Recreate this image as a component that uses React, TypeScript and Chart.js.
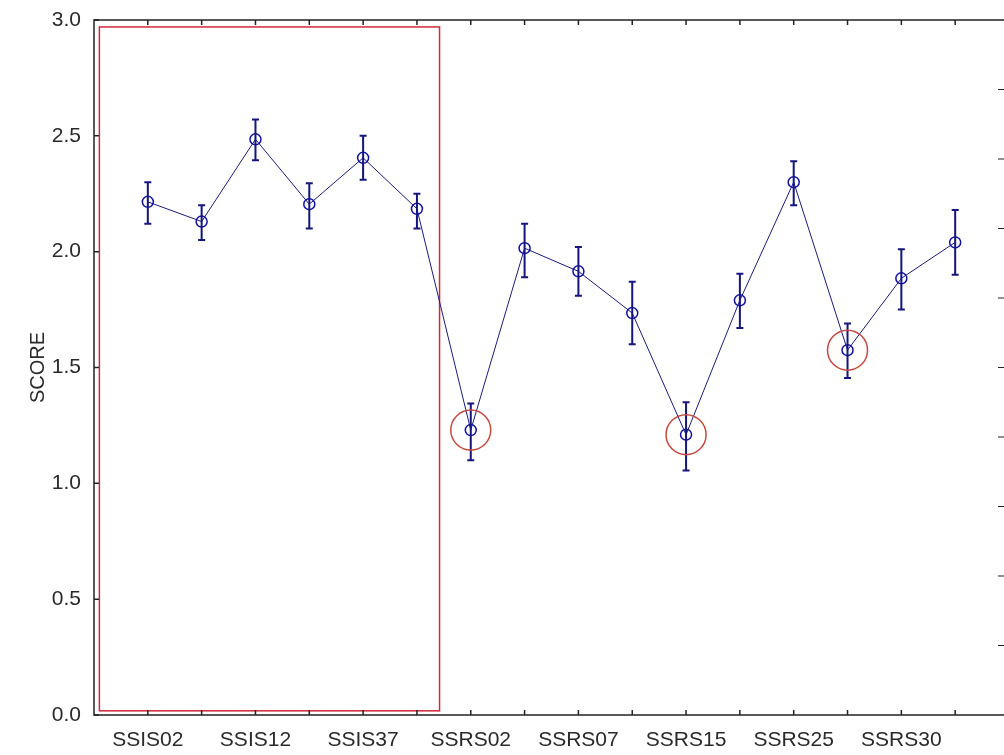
import React, { useEffect, useRef } from 'react';
import { Chart, registerables } from 'chart.js';

Chart.register(...registerables);

// Categories (only every other label is printed on the axis in the reference)
const categories = ['SSIS02', '', 'SSIS12', '', 'SSIS37', '', 'SSRS02', '', 'SSRS07', '', 'SSRS15', '', 'SSRS25', '', 'SSRS30', ''];
// Mean score per category
const scores = [2.215, 2.13, 2.485, 2.205, 2.405, 2.185, 1.23, 2.015, 1.915, 1.735, 1.21, 1.79, 2.30, 1.575, 1.885, 2.04];
// Error bar upper / lower bounds
const errHigh = [2.30, 2.20, 2.57, 2.295, 2.50, 2.25, 1.345, 2.12, 2.02, 1.87, 1.35, 1.905, 2.39, 1.69, 2.01, 2.18];
const errLow = [2.12, 2.05, 2.395, 2.10, 2.31, 2.10, 1.10, 1.89, 1.81, 1.60, 1.055, 1.67, 2.20, 1.455, 1.75, 1.90];
// Points circled in red
const highlighted = [6, 10, 13];
// Left axis ticks
const yTickValues = [0, 0.5, 1.0, 1.5, 2.0, 2.5, 3.0];
// Right axis (inner) tick marks
const rightTickValues = [0.3, 0.6, 0.9, 1.2, 1.5, 1.8, 2.1, 2.4, 2.7];
// Red highlight box in data units: [xMin, xMax, yMin, yMax]
const boxRange = [-0.9, 5.42, 0.018, 2.97];

const FONT = "'Liberation Sans', Arial, sans-serif";

export default function App() {
  const ref = useRef<HTMLCanvasElement | null>(null);

  useEffect(() => {
    const canvas = ref.current;
    if (!canvas) return;

    const framePlugin = {
      id: 'frameAndExtras',
      beforeDatasetsDraw(chart: any) {
        const { ctx, scales } = chart;
        const xs = scales.x, ys = scales.y;
        ctx.save();
        ctx.strokeStyle = '#d0283a';
        ctx.lineWidth = 1.5;
        const x1 = xs.getPixelForValue(boxRange[0]);
        const x2 = xs.getPixelForValue(boxRange[1]);
        const y1 = ys.getPixelForValue(boxRange[3]);
        const y2 = ys.getPixelForValue(boxRange[2]);
        ctx.strokeRect(x1, y1, x2 - x1, y2 - y1);
        ctx.restore();
      },
      afterDatasetsDraw(chart: any) {
        const { ctx, scales, chartArea } = chart;
        const xs = scales.x, ys = scales.y;
        ctx.save();
        // error bars
        ctx.strokeStyle = '#15157e';
        ctx.lineWidth = 2;
        scores.forEach((_, i) => {
          const px = xs.getPixelForValue(i);
          const yh = ys.getPixelForValue(errHigh[i]);
          const yl = ys.getPixelForValue(errLow[i]);
          ctx.beginPath();
          ctx.moveTo(px, yh);
          ctx.lineTo(px, yl);
          ctx.moveTo(px - 3.5, yh);
          ctx.lineTo(px + 3.5, yh);
          ctx.moveTo(px - 3.5, yl);
          ctx.lineTo(px + 3.5, yl);
          ctx.stroke();
        });
        // red circles
        ctx.strokeStyle = '#c9483e';
        ctx.lineWidth = 1.5;
        highlighted.forEach((i) => {
          const px = xs.getPixelForValue(i);
          const py = ys.getPixelForValue(scores[i]);
          ctx.beginPath();
          ctx.arc(px, py, 20, 0, Math.PI * 2);
          ctx.stroke();
        });
        // frame
        ctx.strokeStyle = '#222';
        ctx.lineWidth = 1.5;
        ctx.strokeRect(chartArea.left, chartArea.top, chartArea.right - chartArea.left, chartArea.bottom - chartArea.top);
        ctx.beginPath();
        // top & bottom inward ticks at every category
        scores.forEach((_, i) => {
          const px = xs.getPixelForValue(i);
          ctx.moveTo(px, chartArea.top);
          ctx.lineTo(px, chartArea.top + 5);
          ctx.moveTo(px, chartArea.bottom);
          ctx.lineTo(px, chartArea.bottom - 5);
        });
        // left inward ticks
        yTickValues.forEach((v) => {
          const py = ys.getPixelForValue(v);
          ctx.moveTo(chartArea.left, py);
          ctx.lineTo(chartArea.left + 5, py);
        });
        ctx.stroke();
        // right inward ticks (axis line sits just past the visible edge)
        ctx.lineWidth = 1;
        ctx.beginPath();
        rightTickValues.forEach((v) => {
          const py = ys.getPixelForValue(v);
          ctx.moveTo(chartArea.right, py);
          ctx.lineTo(chartArea.right - 11, py);
        });
        ctx.stroke();
        ctx.restore();
      },
    };

    const chart = new Chart(canvas, {
      type: 'line',
      data: {
        datasets: [
          {
            data: scores.map((y, i) => ({ x: i, y })),
            borderColor: '#1a1a80',
            borderWidth: 1,
            pointRadius: 5.5,
            pointBorderWidth: 1.5,
            pointBorderColor: '#1010a8',
            pointBackgroundColor: 'rgba(0,0,0,0)',
            pointStyle: 'circle',
            tension: 0,
          },
        ],
      },
      options: {
        responsive: false,
        animation: false,
        events: [],
        layout: { padding: { top: 20, right: 3, left: 0, bottom: 0 } },
        plugins: { legend: { display: false }, tooltip: { enabled: false } },
        scales: {
          x: {
            type: 'linear',
            min: -1,
            max: 16,
            grid: { display: false, drawTicks: false },
            border: { display: false },
            afterFit: (s: any) => {
              s.height = 40;
              s.paddingLeft = 0;
              s.paddingRight = 0;
            },
            ticks: {
              stepSize: 1,
              autoSkip: false,
              maxRotation: 0,
              padding: 13,
              color: '#2a2a2a',
              font: { family: FONT, size: 21 },
              callback: (v: any) => {
                const i = Math.round(Number(v));
                return categories[i] !== undefined ? categories[i] : '';
              },
            },
          },
          y: {
            min: 0,
            max: 3,
            grid: { display: false, drawTicks: false },
            border: { display: false },
            afterFit: (s: any) => {
              s.width = 94;
              s.paddingTop = 0;
              s.paddingBottom = 0;
            },
            ticks: {
              stepSize: 0.5,
              padding: 13,
              color: '#2a2a2a',
              font: { family: FONT, size: 21 },
              callback: (v: any) => Number(v).toFixed(1),
            },
            title: {
              display: true,
              text: 'SCORE',
              color: '#2a2a2a',
              font: { family: FONT, size: 20 },
              padding: { top: 26, bottom: 0 },
            },
          },
        },
      },
      plugins: [framePlugin],
    });

    return () => chart.destroy();
  }, []);

  return (
    <div
      style={{
        position: 'fixed',
        left: 0,
        top: 0,
        width: 1004,
        height: 755,
        overflow: 'hidden',
        background: '#fff',
      }}
    >
      <canvas ref={ref} width={1016} height={755} style={{ display: 'block' }} />
    </div>
  );
}
